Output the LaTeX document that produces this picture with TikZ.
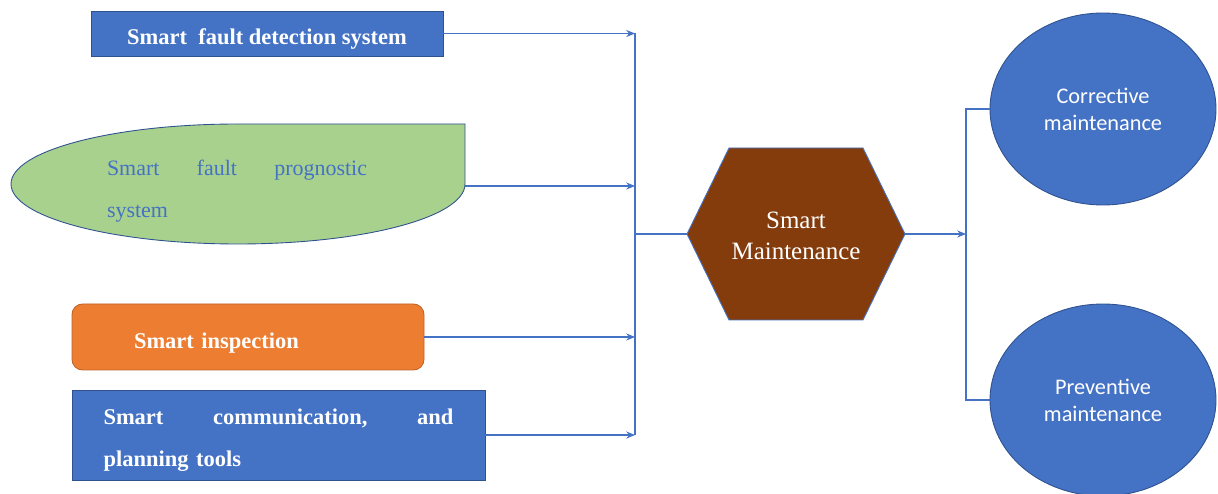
\documentclass[tikz,border=0pt]{standalone}
\usepackage{fontspec}
\setmainfont{Liberation Serif}
\newfontfamily\calibrifont{Carlito}
\usetikzlibrary{shapes.geometric,arrows.meta}
\definecolor{msblue}{HTML}{4472C4}
\definecolor{msdarkblue}{HTML}{2F528F}
\definecolor{msorange}{HTML}{ED7D31}
\definecolor{msgreen}{HTML}{A9D18E}
\definecolor{msbrown}{HTML}{843C0C}

\begin{document}
\begin{tikzpicture}[line width=0.6pt,>={Stealth[length=5pt,width=4pt]},
	bluebox/.style ={rectangle, fill=msblue, draw=msdarkblue, line width=0.5pt, text=white, font=\fontsize{12.8}{23.8}\selectfont\bfseries},
	orangebox/.style ={rectangle, rounded corners=6pt, fill=msorange, draw=msorange!80!black, line width=0.5pt, text=white, font=\fontsize{12.8}{23.8}\selectfont\bfseries},
	roundbox/.style ={ellipse, fill=msblue, draw=msdarkblue, line width=0.5pt, text=white, align=center, minimum width=4.52cm, minimum height=3.84cm, font=\calibrifont\fontsize{12.7}{15.3}\selectfont},
	link/.style ={draw=msblue}]
		\useasboundingbox (0,0) rectangle (24.36,-9.88);
		\node[bluebox, minimum width=7.04cm, inner ysep=0.15cm, text height=0.53cm, text depth=0.07cm] (detect) at (5.34,-0.67) {Smart\ \ fault detection system};
		\draw[fill=msgreen, draw=msdarkblue, line width=0.5pt] (9.3,-2.48) -- (9.3,-3.68) arc[start angle=0, end angle=-180, x radius=4.54cm, y radius=1.2cm] arc[start angle=180, end angle=90, x radius=4.54cm, y radius=1.2cm] -- cycle;
		\coordinate (progR) at (9.3,-3.72);
		\node[text=msblue, text width=5.2cm, align=left, inner sep=0pt, font=\fontsize{12.5}{23.8}\selectfont] (prog) at (4.74,-3.82) {Smart\hfill fault\hfill prognostic\\system};
		\node[orangebox, minimum width=7.04cm, minimum height=1.32cm, inner xsep=0pt, text width=7.04cm, align=left] (insp) at (4.96,-6.74) {\rule{0pt}{0.55cm}\hspace*{1.24cm}Smart inspection};
		\node[bluebox, minimum height=1.8cm, inner xsep=0.63cm, text width=7cm, align=left] (comm) at (5.57,-8.7) {\rule{0pt}{0.51cm}Smart\hfill communication,\hfill and\\planning tools};
		\draw[fill=msbrown, draw=msblue, line width=0.5pt] (13.74,-4.68) coordinate (hexL) -- (14.58,-2.96) -- (17.26,-2.96) -- (18.1,-4.68) coordinate (hexR) -- (17.26,-6.4) -- (14.58,-6.4) -- cycle;
		\node[text=white, align=center, font=\fontsize{14.2}{18}\selectfont] (sm) at (15.92,-4.72) {Smart\\Maintenance};
		\node[roundbox] (corr) at (22.06,-2.18) {Corrective\\maintenance};
		\node[roundbox] (prev) at (22.06,-8.0) {Preventive\\maintenance};
		\coordinate (bus) at (12.7,-4.68);
		\coordinate (split) at (19.32,-4.68);
		\draw[link,->] (detect.east) -- (detect.east -| bus);
		\draw[link,->] (progR) -- (progR -| bus);
		\draw[link,->] (insp.east) -- (insp.east -| bus);
		\draw[link,->] (comm.east) -- (comm.east -| bus);
		\draw[link] (detect.east -| bus) -- (comm.east -| bus);
		\draw[link] (bus) -- (hexL);
		\draw[link,->] (hexR) -- (split);
		\draw[link] (corr.west) -| (split) |- (prev.west);
	\end{tikzpicture}
\end{document}
